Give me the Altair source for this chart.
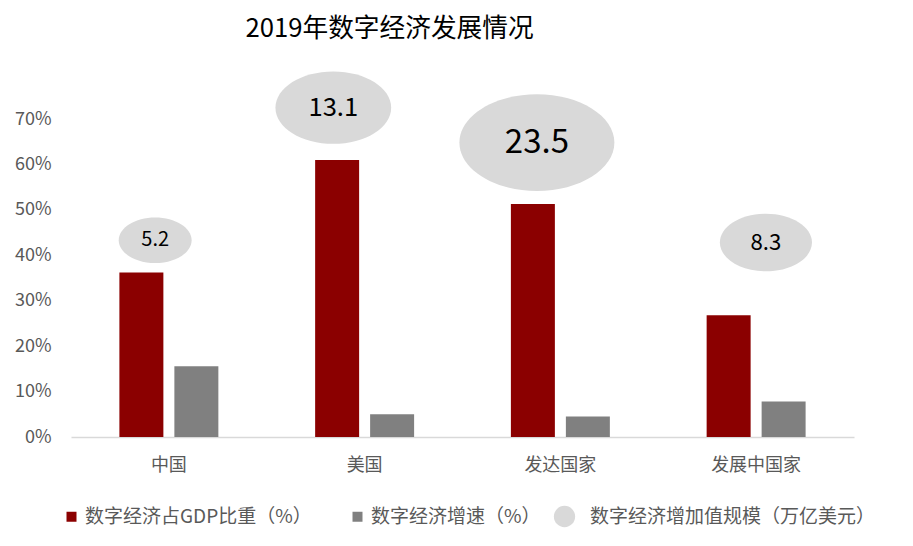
import altair as alt
import pandas as pd

# ---------------- data ----------------
categories = ["中国", "美国", "发达国家", "发展中国家"]
share_gdp = [36.2, 61.0, 51.3, 26.8]        # 数字经济占GDP比重（%）
growth = [15.6, 5.0, 4.5, 7.8]              # 数字经济增速（%）
scale_value = [5.2, 13.1, 23.5, 8.3]        # 数字经济增加值规模（万亿美元）
bubble_x = [0.43, 1.34, 2.38, 3.55]         # bubble x position (category units)
bubble_y = [43.3, 72.5, 64.8, 42.8]         # bubble y position (%)
y_ticks = [0, 10, 20, 30, 40, 50, 60, 70]

series_names = ["数字经济占GDP比重（%）", "数字经济增速（%）"]
bubble_name = "数字经济增加值规模（万亿美元）"
title_text = "2019年数字经济发展情况"

FONT = "Noto Sans CJK SC"
RED = "#8B0000"
GRAY = "#808080"
LIGHT = "#D9D9D9"
LABEL = "#595959"

bar_df = pd.DataFrame({
    "category": categories * 2,
    "series": [series_names[0]] * 4 + [series_names[1]] * 4,
    "value": share_gdp + growth,
})
bub_df = pd.DataFrame({
    "category": categories,
    "bx": bubble_x,
    "by": bubble_y,
    "value": scale_value,
    "name": [bubble_name] * 4,
})

ELLIPSE = ("M1,0C1,0.345,0.552,0.625,0,0.625C-0.552,0.625,-1,0.345,-1,0"
           "C-1,-0.345,-0.552,-0.625,0,-0.625C0.552,-0.625,1,-0.345,1,0Z")

bars = alt.Chart(bar_df).mark_bar().encode(
    x=alt.X("category:N", sort=categories,
            scale=alt.Scale(paddingInner=0, paddingOuter=0),
            axis=alt.Axis(title=None, labelAngle=0, ticks=False,
                          domainColor=LIGHT, domainWidth=1.5,
                          labelFontSize=18, labelColor=LABEL, labelFont=FONT,
                          labelPadding=19)),
    xOffset=alt.XOffset("series:N", sort=series_names,
                        scale=alt.Scale(paddingInner=0.2, paddingOuter=0.88)),
    y=alt.Y("value:Q", scale=alt.Scale(domain=[0, 70]),
            axis=alt.Axis(title=None, values=y_ticks,
                          labelExpr="datum.value + '%'",
                          domain=False, ticks=False, grid=False,
                          labelFontSize=18, labelColor=LABEL, labelFont=FONT,
                          labelPadding=20)),
    color=alt.Color("series:N", sort=series_names,
                    scale=alt.Scale(domain=series_names, range=[RED, GRAY]),
                    legend=alt.Legend(title=None, orient="none", direction="horizontal",
                                      legendX=-9, legendY=388, padding=0,
                                      symbolType="square", symbolSize=100,
                                      labelFontSize=19, labelColor=LABEL, labelFont=FONT,
                                      labelLimit=0, labelOffset=4, columnPadding=36)),
)

bubbles = alt.Chart(bub_df).mark_point(shape=ELLIPSE, filled=True, opacity=1,
                                       strokeWidth=0).encode(
    x=alt.X("bx:Q", scale=alt.Scale(domain=[0, 4]), axis=None),
    y=alt.Y("by:Q", scale=alt.Scale(domain=[0, 70]), axis=None),
    size=alt.Size("value:Q", scale=alt.Scale(domain=[0, 23.5], range=[0, 24025]),
                  legend=None),
    color=alt.Color("name:N", scale=alt.Scale(domain=[bubble_name], range=[LIGHT]),
                    legend=alt.Legend(title=None, orient="none",
                                      legendX=482, legendY=386, padding=0,
                                      symbolType="circle", symbolSize=452,
                                      labelFontSize=19, labelColor=LABEL, labelFont=FONT,
                                      labelLimit=0, labelOffset=14)),
)

labels = alt.Chart(bub_df).mark_text(font=FONT, color="#000000",
                                     baseline="middle", align="center").encode(
    x=alt.X("bx:Q", scale=alt.Scale(domain=[0, 4]), axis=None),
    y=alt.Y("by:Q", scale=alt.Scale(domain=[0, 70]), axis=None),
    text=alt.Text("value:Q", format=".1f"),
    size=alt.Size("value:Q", scale=alt.Scale(domain=[5.2, 23.5], range=[20, 33], zero=False),
                  legend=None),
)

chart = alt.layer(bubbles, labels, bars).resolve_scale(
    x="independent", y="independent", color="independent", size="independent"
).properties(
    width=783,
    height=318,
    background="white",
    title=alt.TitleParams(title_text, anchor="start", dx=231, fontSize=25.7,
                          fontWeight="normal", font=FONT, color="#000000", offset=29),
    autosize=alt.AutoSizeParams(type="none"),
    padding={"left": 63, "top": 111, "right": 51, "bottom": 101},
).configure_view(stroke=None, strokeWidth=0)

chart.save("out.html", embed_options={"renderer": "svg", "actions": False})
